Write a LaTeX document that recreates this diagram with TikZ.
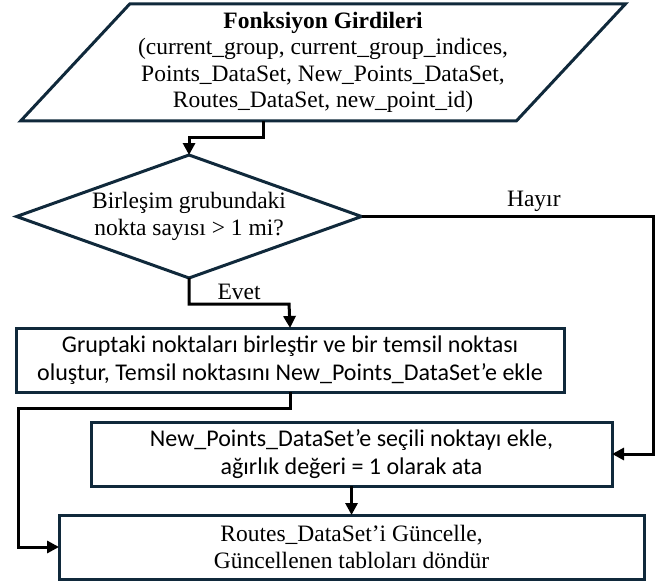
\documentclass[tikz,border=0pt]{standalone}
\usepackage{fontspec}
\setmainfont{Liberation Serif}
\newfontfamily\boxsans{Carlito}
\usetikzlibrary{arrows.meta,positioning,shapes.geometric}
\definecolor{boxline}{HTML}{10293B}

\begin{document}
\begin{tikzpicture}[x=1pt,y=-1pt]
      \tikzstyle{serif}=[font=\fontsize{23.5}{26.5}\selectfont]
      \tikzstyle{sans}=[font=\boxsans\fontsize{24}{28}\selectfont]
      \tikzstyle{inputbox}=[trapezium, trapezium left angle=44, trapezium right angle=136, trapezium stretches=true, minimum width=606pt, minimum height=117pt, inner sep=0pt, outer sep=0pt, draw=boxline, line width=3pt, align=center, serif]
      \tikzstyle{decision}=[diamond, shape aspect=2.8, minimum width=345pt, minimum height=123pt, inner sep=0pt, outer sep=0pt, draw=boxline, line width=3pt, align=center, serif]
      \tikzstyle{process}=[rectangle, minimum height=64pt, inner sep=0pt, outer sep=0pt, draw=boxline, line width=3pt, align=center]
      \tikzstyle{connect}=[-{Triangle[length=12pt,width=12pt]}, line width=3pt, black]
      \tikzstyle{lbl}=[serif, inner sep=3pt];

      \useasboundingbox (0,0) rectangle (659,583);

      \node[inputbox] (in) at (323,62.5) {\textbf{Fonksiyon Girdileri}\\(current\_group, current\_group\_indices,\\Points\_DataSet, New\_Points\_DataSet,\\Routes\_DataSet, new\_point\_id)};
      \node[decision] (dec) [below=34pt of in, xshift=-134pt] {Birleşim grubundaki\\nokta sayısı > 1 mi?};
      \node[process, sans, minimum width=548pt] (merge) [below=50pt of dec, xshift=101pt] {Gruptaki noktaları birleştir ve bir temsil noktası\\oluştur, Temsil noktasını New\_Points\_DataSet’e ekle};
      \node[process, sans, minimum width=521pt] (add) [below=30pt of merge, xshift=61.5pt] {New\_Points\_DataSet’e seçili noktayı ekle,\\ağırlık değeri = 1 olarak ata};
      \node[process, serif, minimum width=585pt] (update) [below=29pt of add] {Routes\_DataSet’i Güncelle,\\Güncellenen tabloları döndür};

      \draw[connect] ([xshift=-60pt]in.south) -- ++(0,16) -| (dec.north);
      \draw[connect] (dec.south) -- ++(0,26) -- node[lbl, above] {Evet} ++(100,0) -- (merge.north);
      \draw[connect] (dec.east) -- node[lbl, above, pos=0.59] {Hayır} ++(292,0) |- (add.east);
      \draw[connect] (merge.south) |- ++(-272,16) |- (update.west);
      \draw[connect] (add) -- (update);
    \end{tikzpicture}
\end{document}
